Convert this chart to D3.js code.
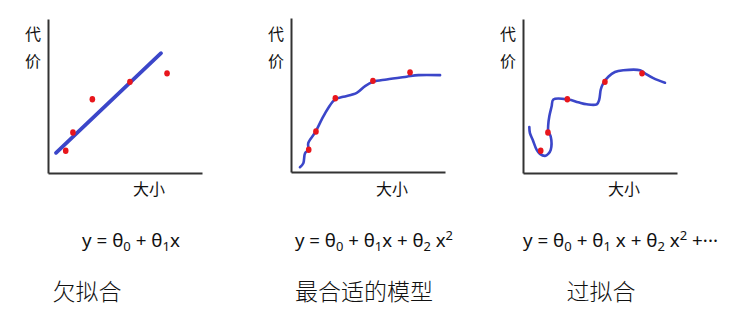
<!DOCTYPE html>
<html>
<head>
<meta charset="utf-8">
<script src="https://cdn.jsdelivr.net/npm/d3@7"></script>
<style>
  html, body { margin: 0; padding: 0; background: #fff; }
  svg { display: block; }
</style>
</head>
<body>
<svg id="chart" width="734" height="327"></svg>
<script>
// ---- data ----
const sampleX = [1.15, 1.62, 2.88, 5.32, 7.73];
const sampleY = [1.44, 2.63, 4.79, 5.92, 6.47];

const underX = [0.52, 7.34];
const underY = [1.31, 7.78];

const goodX = [0.58, 0.80, 0.91, 1.12, 1.12, 1.58, 1.99, 2.42, 2.86, 3.40, 4.27, 4.81, 5.34, 6.21, 7.51, 8.27, 9.68];
const goodY = [0.31, 0.57, 1.22, 1.44, 1.88, 2.59, 3.40, 4.16, 4.71, 4.88, 5.14, 5.58, 5.86, 6.01, 6.19, 6.29, 6.29];

const overX = [0.41, 0.45, 0.63, 0.89, 1.10, 1.43, 1.64, 1.80, 1.80, 1.64, 1.64, 1.71, 1.86, 1.97, 2.94, 3.59, 4.14, 4.79, 4.95, 5.05, 5.21, 5.54, 5.97, 6.51, 7.60, 7.92, 8.46, 9.22];
const overY = [2.99, 2.59, 2.16, 1.50, 1.24, 1.11, 1.24, 1.50, 2.37, 2.70, 3.14, 3.68, 4.33, 4.77, 4.77, 4.59, 4.46, 4.46, 4.77, 5.42, 5.82, 6.25, 6.56, 6.67, 6.67, 6.47, 6.16, 5.86];

const yLabelChars = ["代", "价"];
const xLabel = "大小";
const titles = ["欠拟合", "最合适的模型", "过拟合"];
// formulas: arrays of [text, kind] where kind: n normal, sub subscript, sup superscript
const formulas = [
  [["y = θ", "n"], ["0", "sub"], [" + θ", "n"], ["1", "sub"], ["x", "n"]],
  [["y = θ", "n"], ["0", "sub"], [" + θ", "n"], ["1", "sub"], ["x + θ", "n"], ["2", "sub"], [" x", "n"], ["2", "sup"]],
  [["y = θ", "n"], ["0", "sub"], [" + θ", "n"], ["1", "sub"], [" x + θ", "n"], ["2", "sub"], [" x", "n"], ["2", "sup"], [" +···", "n"]]
];

// ---- layout ----
const panels = [
  { ox: 48, oy: 173, curveX: underX, curveY: underY, lw: 3.8, fx: 82, fw: 98, tc: 87 },
  { ox: 291, oy: 172, curveX: goodX, curveY: goodY, lw: 2.6, fx: 295, fw: 158, tc: 364 },
  { ox: 523, oy: 173, curveX: overX, curveY: overY, lw: 2.6, fx: 523, fw: 195, tc: 601 }
];
const W = 154, H = 154;

const svg = d3.select("#chart");
const blue = "#3b46c9", red = "#e8161c", axisColor = "#333";
const cjk = "'Noto Sans CJK SC', sans-serif";

panels.forEach((p, i) => {
  const g = svg.append("g").attr("transform", `translate(${p.ox},${p.oy - H})`);
  const x = d3.scaleLinear().domain([0, 10]).range([0, W]);
  const y = d3.scaleLinear().domain([0, 10]).range([H, 0]);

  // axes
  const xa = g.append("g").attr("transform", `translate(0,${H})`)
    .call(d3.axisBottom(x).ticks(0).tickSize(0).tickSizeOuter(0));
  const ya = g.append("g")
    .call(d3.axisLeft(y).ticks(0).tickSize(0).tickSizeOuter(0));
  [xa, ya].forEach(a => {
    a.select(".domain").attr("stroke", axisColor).attr("stroke-width", 2);
    a.selectAll("text").remove();
  });

  // curve
  const pts = p.curveX.map((v, k) => [v, p.curveY[k]]);
  const line = d3.line().x(d => x(d[0])).y(d => y(d[1]))
    .curve(i === 0 ? d3.curveLinear : d3.curveCatmullRom.alpha(0.5));
  g.append("path").datum(pts)
    .attr("d", line)
    .attr("fill", "none")
    .attr("stroke", blue)
    .attr("stroke-width", p.lw)
    .attr("stroke-linecap", "round")
    .attr("stroke-linejoin", "round");

  // samples
  const samples = sampleX.map((v, k) => [v, sampleY[k]]);
  g.selectAll("ellipse.s").data(samples).enter().append("ellipse")
    .attr("class", "s")
    .attr("cx", d => x(d[0])).attr("cy", d => y(d[1]))
    .attr("rx", 2.8).attr("ry", 3.2).attr("fill", red);

  // axis labels
  svg.append("text").attr("x", p.ox - 23).attr("y", 39.5)
    .attr("font-family", cjk).attr("font-size", 16).attr("fill", "#111")
    .text(yLabelChars[0]);
  svg.append("text").attr("x", p.ox - 23).attr("y", 67)
    .attr("font-family", cjk).attr("font-size", 16).attr("fill", "#111")
    .text(yLabelChars[1]);
  svg.append("text").attr("x", p.ox + 101).attr("y", 195)
    .attr("text-anchor", "middle")
    .attr("font-family", cjk).attr("font-size", 16).attr("fill", "#111")
    .text(xLabel);

  // formula
  const ft = svg.append("text").attr("x", p.fx).attr("y", 246.5)
    .attr("font-family", "'Noto Sans', sans-serif").attr("font-size", 18)
    .attr("fill", "#111")
    .attr("textLength", p.fw).attr("lengthAdjust", "spacingAndGlyphs");
  let cur = 0;
  formulas[i].forEach(([t, k]) => {
    const target = k === "sub" ? 4 : k === "sup" ? -7 : 0;
    const ts = ft.append("tspan").text(t).attr("dy", target - cur);
    if (k !== "n") ts.attr("font-size", 12.5);
    cur = target;
  });

  // title
  svg.append("text").attr("x", p.tc).attr("y", 299.5)
    .attr("text-anchor", "middle")
    .attr("font-family", cjk).attr("font-size", 23).attr("font-weight", 300)
    .attr("fill", "#111")
    .text(titles[i]);
});
</script>
</body>
</html>
